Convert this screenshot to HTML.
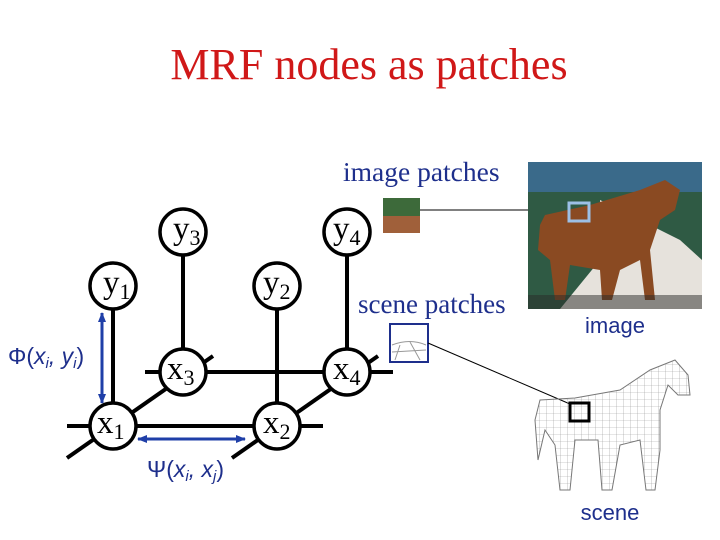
<!DOCTYPE html>
<html><head><meta charset="utf-8"><style>
body{margin:0;background:#fff;width:720px;height:540px;overflow:hidden}
svg{display:block}
.s{font-family:"Liberation Serif",serif}
.a{font-family:"Liberation Sans",sans-serif}
</style></head><body>
<svg width="720" height="540" viewBox="0 0 720 540">
<defs>
<pattern id="mesh" width="7" height="7" patternUnits="userSpaceOnUse"><path d="M0 0H7M0 0V7" stroke="#999" stroke-width="0.6" fill="none"/></pattern>
<marker id="ae" markerUnits="userSpaceOnUse" markerWidth="10" markerHeight="8" refX="9" refY="4" orient="auto"><path d="M0 0L10 4L0 8z" fill="#1f3fa8"/></marker>
<marker id="as" markerUnits="userSpaceOnUse" markerWidth="10" markerHeight="8" refX="1" refY="4" orient="auto"><path d="M10 0L0 4L10 8z" fill="#1f3fa8"/></marker>
</defs>
<text x="369" y="79" text-anchor="middle" class="s" font-size="44" fill="#d01818">MRF nodes as patches</text>
<text x="343" y="181" class="s" font-size="27.5" fill="#1e2f8c">image patches</text>
<text x="358" y="313" class="s" font-size="27" fill="#1e2f8c">scene patches</text>
<g stroke="#000" stroke-width="4" fill="none">
<line x1="183" y1="232" x2="183" y2="372"/><line x1="347" y1="232" x2="347" y2="372"/>
<line x1="113" y1="286" x2="113" y2="426"/><line x1="277" y1="286" x2="277" y2="426"/>
<line x1="145" y1="372" x2="393" y2="372"/><line x1="67" y1="426" x2="323" y2="426"/>
<line x1="67" y1="458" x2="213" y2="356"/><line x1="232" y1="458" x2="378" y2="356"/>
</g>
<g stroke="#000" stroke-width="3.5" fill="#fff">
<circle cx="183" cy="232" r="23"/><circle cx="347" cy="232" r="23"/>
<circle cx="113" cy="286" r="23"/><circle cx="277" cy="286" r="23"/>
<circle cx="183" cy="372" r="23"/><circle cx="347" cy="372" r="23"/>
<circle cx="113" cy="426" r="23"/><circle cx="277" cy="426" r="23"/>
</g>
<g class="s" font-size="33" fill="#000">
<text x="173" y="239">y<tspan font-size="22" dy="6">3</tspan></text>
<text x="333" y="239">y<tspan font-size="22" dy="6">4</tspan></text>
<text x="103" y="293">y<tspan font-size="22" dy="6">1</tspan></text>
<text x="263" y="293">y<tspan font-size="22" dy="6">2</tspan></text>
<text x="167" y="379">x<tspan font-size="22" dy="6">3</tspan></text>
<text x="333" y="379">x<tspan font-size="22" dy="6">4</tspan></text>
<text x="97" y="433">x<tspan font-size="22" dy="6">1</tspan></text>
<text x="263" y="433">x<tspan font-size="22" dy="6">2</tspan></text>
</g>
<g stroke="#1f3fa8" stroke-width="3" marker-end="url(#ae)" marker-start="url(#as)">
<line x1="102" y1="313" x2="102" y2="403"/>
<line x1="138" y1="439" x2="245" y2="439"/>
</g>
<text x="8" y="364" class="a" font-size="23" fill="#1e2f8c">Φ(<tspan font-style="italic">x<tspan font-size="15" dy="4">i</tspan><tspan dy="-4">, y</tspan><tspan font-size="15" dy="4">i</tspan></tspan><tspan dy="-4">)</tspan></text>
<text x="147" y="477" class="a" font-size="23" fill="#1e2f8c">Ψ(<tspan font-style="italic">x<tspan font-size="15" dy="4">i</tspan><tspan dy="-4">, x</tspan><tspan font-size="15" dy="4">j</tspan></tspan><tspan dy="-4">)</tspan></text>
<rect x="383" y="198" width="37" height="18" fill="#3d6a3a"/><rect x="383" y="216" width="37" height="17" fill="#a0603a"/>
<line x1="420" y1="210" x2="570" y2="210" stroke="#000" stroke-width="1"/>
<rect x="528" y="162" width="174" height="147" fill="#2f5a44"/>
<rect x="528" y="162" width="174" height="30" fill="#3a6a8a"/>
<path d="M600 200L680 240L702 260L702 309L560 309L600 260Z" fill="#e6e2dc"/>
<path d="M545 215L590 205L640 190L665 180L680 190L675 210L660 220L650 250L655 300L645 300L640 260L620 270L612 300L602 300L600 270L570 265L565 300L555 300L550 260L538 250L540 225Z" fill="#8a4a22"/>
<rect x="528" y="295" width="174" height="14" fill="#2a2a28" opacity="0.5"/>
<rect x="569" y="203" width="20" height="18" fill="none" stroke="#9cc0e6" stroke-width="3"/>
<text x="615" y="333" text-anchor="middle" class="a" font-size="22" fill="#1e2f8c">image</text>
<rect x="390" y="324" width="38" height="38" fill="#fff" stroke="#1e2f8c" stroke-width="2"/>
<path d="M392 345Q410 338 426 345M392 352L426 350M400 345L395 360M410 342L420 360" stroke="#999" fill="none"/>
<line x1="428" y1="343" x2="570" y2="404" stroke="#000" stroke-width="1"/>
<path d="M540 400L575 398L620 390L650 370L675 360L688 375L690 395L678 395L668 385L660 410L660 450L655 490L646 490L640 440L620 445L612 490L602 490L598 440L575 440L570 490L560 490L555 445L545 430L538 460L535 420Z" fill="url(#mesh)" stroke="#777" stroke-width="1"/>
<rect x="570" y="403" width="19" height="18" fill="none" stroke="#000" stroke-width="3"/>
<text x="610" y="520" text-anchor="middle" class="a" font-size="22" fill="#1e2f8c">scene</text>
</svg>
</body></html>
